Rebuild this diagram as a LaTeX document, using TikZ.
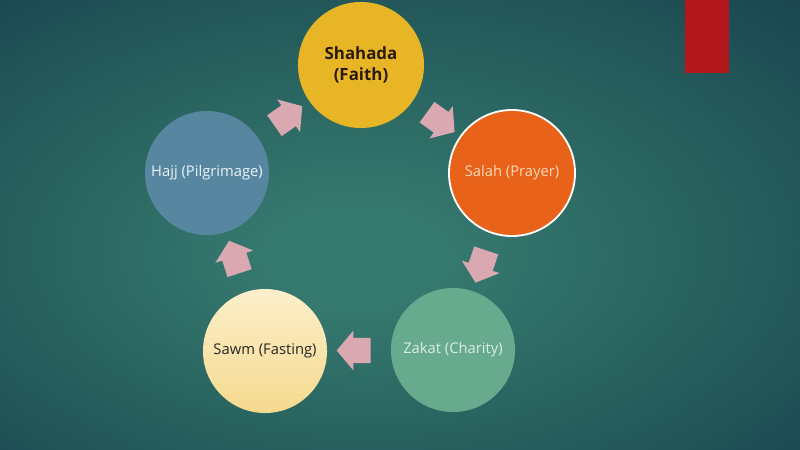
\documentclass[tikz,border=0pt]{standalone}
\usepackage{fontspec}
\setmainfont{Open Sans}
\usetikzlibrary{shapes.arrows,calc}

\definecolor{bglight}{HTML}{35786E}
\definecolor{bgmid}{HTML}{28625F}
\definecolor{bgdark}{HTML}{173F4C}
\definecolor{bgcorner}{HTML}{123544}
\definecolor{faithfill}{HTML}{E8B526}
\definecolor{faithtext}{HTML}{2A1A0C}
\definecolor{prayerfill}{HTML}{E8621A}
\definecolor{prayertext}{HTML}{F6DAB8}
\definecolor{charityfill}{HTML}{68AA8E}
\definecolor{charitytext}{HTML}{D9EEE6}
\definecolor{fasttop}{HTML}{FCEFCB}
\definecolor{fastbottom}{HTML}{F5D98E}
\definecolor{pilgfill}{HTML}{5787A0}
\definecolor{pilgtext}{HTML}{EAF2F5}
\definecolor{arrowpink}{HTML}{D9A8B0}
\definecolor{slidered}{HTML}{B3171B}

\pgfdeclareradialshading{slidebg}{\pgfpoint{-3bp}{-4bp}}{color(0bp)=(bglight); color(6bp)=(bglight); color(21bp)=(bgmid); color(42bp)=(bgdark); color(72bp)=(bgcorner)}

\begin{document}
\begin{tikzpicture}[x=0.025cm,y=0.025cm,
  pillar/.style={circle,minimum size=3.1cm,inner sep=0pt,align=center,font=\fontsize{10.5}{13}\selectfont},
  flow/.style={single arrow,fill=arrowpink,minimum height=0.85cm,inner xsep=0pt,inner ysep=0.31cm,
    single arrow head extend=0.18cm,single arrow head indent=0cm,single arrow tip angle=100}]
\useasboundingbox (0,0) rectangle (800,449);
\shade[shading=slidebg] (0,0) rectangle (800,449);
\fill[slidered] (685,376) rectangle (729,449);

% the five pillars
\node[pillar,minimum size=3.15cm,fill=faithfill,text=faithtext,font=\fontsize{12}{15}\selectfont\bfseries] (faith) at (361,384) {Shahada\\(Faith)};
\node[pillar,minimum size=3.15cm,fill=prayerfill,draw=white,line width=1.3pt,text=prayertext] (prayer) at (512,276) {Salah (Prayer)};
\node[pillar,fill=charityfill,text=charitytext] (charity) at (453,99) {Zakat (Charity)};
\node[pillar,top color=fasttop,bottom color=fastbottom,text=black!85] (fasting) at (265,98) {Sawm (Fasting)};
\node[pillar,fill=pilgfill,text=pilgtext] (pilgrimage) at (207,276) {Hajj (Pilgrimage)};

% arrows between them
\node[flow,rotate=-35.7] (toprayer) at ($(faith)!.5!(prayer)$) {};
\node[flow,rotate=-108.4] (tocharity) at ($(prayer)!.5!(charity)$) {};
\node[flow,rotate=180] (tofasting) at ($(charity)!.5!(fasting)$) {};
\node[flow,rotate=108] (topilgrimage) at ($(fasting)!.5!(pilgrimage)$) {};
\node[flow,rotate=35] (tofaith) at ($(pilgrimage)!.5!(faith)$) {};
\end{tikzpicture}
\end{document}
